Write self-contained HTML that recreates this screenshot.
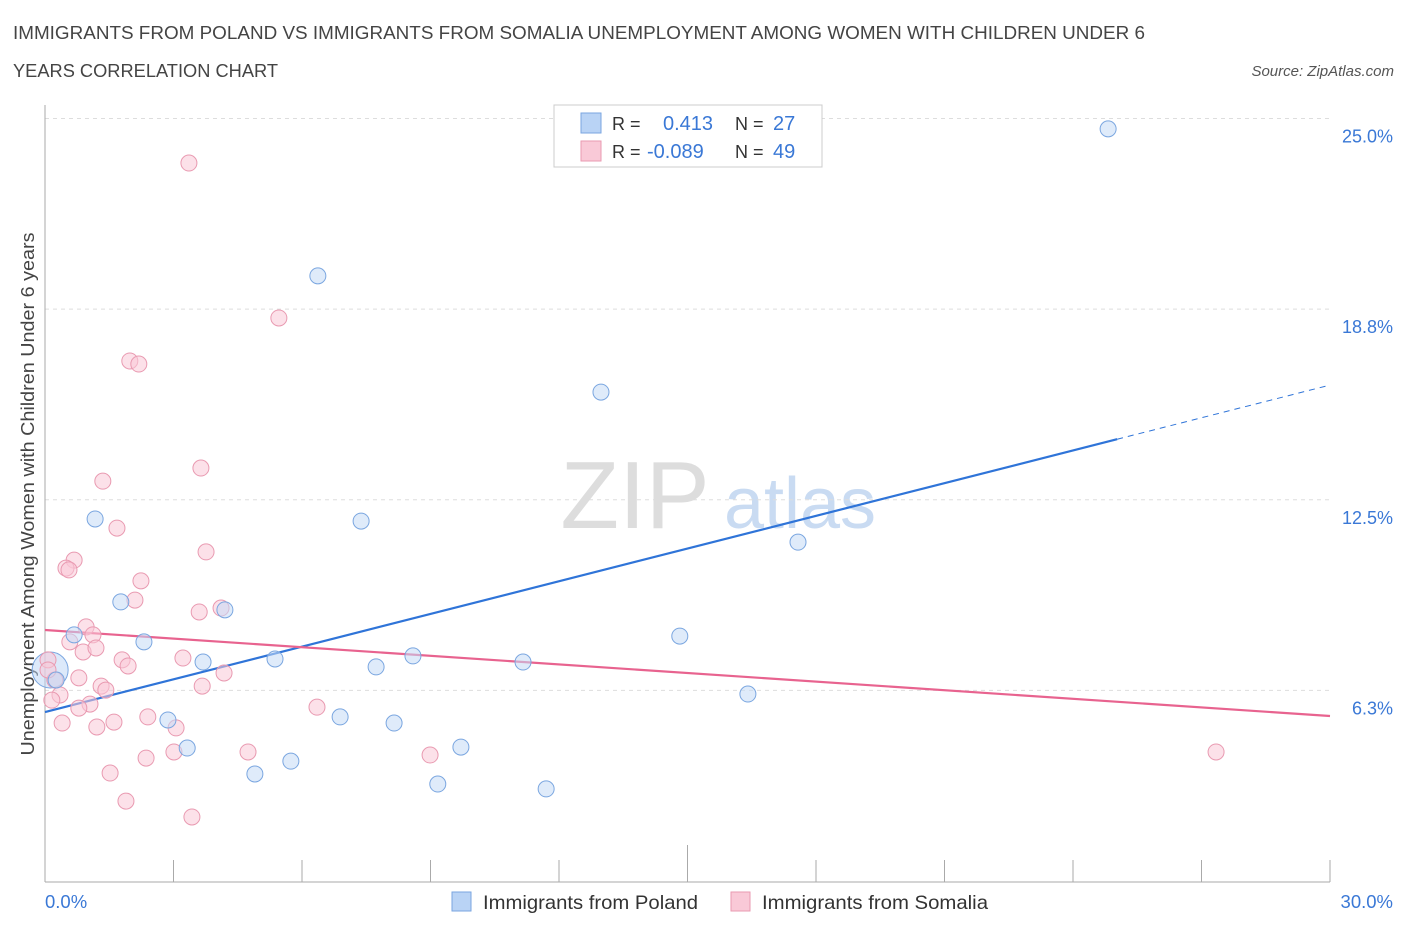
<!DOCTYPE html>
<html><head><meta charset="utf-8"><style>
body{margin:0;background:#fff;font-family:"Liberation Sans",sans-serif;}
svg text{font-family:"Liberation Sans",sans-serif;}
</style></head><body>
<svg id="chart" width="1406" height="930" xmlns="http://www.w3.org/2000/svg">
<text x="13" y="39" font-size="18" fill="#444" textLength="1132" lengthAdjust="spacingAndGlyphs">IMMIGRANTS FROM POLAND VS IMMIGRANTS FROM SOMALIA UNEMPLOYMENT AMONG WOMEN WITH CHILDREN UNDER 6</text>
<text x="13" y="77" font-size="18" fill="#444" textLength="265" lengthAdjust="spacingAndGlyphs">YEARS CORRELATION CHART</text>
<text x="1394" y="76" font-size="15" fill="#555" text-anchor="end" font-style="italic">Source: ZipAtlas.com</text>
<g>
<text x="635" y="528" font-size="96" fill="#ddd" text-anchor="middle" font-family="Liberation Serif, serif">ZIP</text>
<text x="800" y="528" font-size="72" fill="#c9dbf2" text-anchor="middle">atlas</text>
</g>
<g id="grid"></g>
<line x1="45" y1="105" x2="45" y2="882" stroke="#aaa"/>
<line x1="45" y1="882" x2="1330" y2="882" stroke="#aaa"/>
<g id="ticks"></g>
<text transform="translate(34,494) rotate(-90)" font-size="18" fill="#444" text-anchor="middle" textLength="523" lengthAdjust="spacingAndGlyphs">Unemployment Among Women with Children Under 6 years</text>
<text x="45" y="908" font-size="18.5" fill="#3a78d6">0.0%</text>
<text x="1393" y="908" font-size="18.5" fill="#3a78d6" text-anchor="end">30.0%</text>
<g id="lines"></g>
<g id="points"></g>
<g>
<rect x="554" y="105" width="268" height="62" fill="#fff" stroke="#ccc"/>
<rect x="581" y="113" width="20" height="20" fill="#b9d3f5" stroke="#7aa6e0"/>
<rect x="581" y="141" width="20" height="20" fill="#f9c9d7" stroke="#e99ab1"/>
<text x="612" y="130" font-size="18" fill="#333">R =</text>
<text x="663" y="130" font-size="20" fill="#3a78d6">0.413</text>
<text x="735" y="130" font-size="18" fill="#333">N =</text>
<text x="773" y="130" font-size="20" fill="#3a78d6">27</text>
<text x="612" y="158" font-size="18" fill="#333">R =</text>
<text x="647" y="158" font-size="20" fill="#3a78d6">-0.089</text>
<text x="735" y="158" font-size="18" fill="#333">N =</text>
<text x="773" y="158" font-size="20" fill="#3a78d6">49</text>
</g>
<g>
<rect x="452" y="892" width="19" height="19" fill="#b9d3f5" stroke="#7aa6e0"/>
<text x="483" y="909" font-size="19.5" fill="#333" textLength="215" lengthAdjust="spacingAndGlyphs">Immigrants from Poland</text>
<rect x="731" y="892" width="19" height="19" fill="#f9c9d7" stroke="#e99ab1"/>
<text x="762" y="909" font-size="19.5" fill="#333" textLength="226" lengthAdjust="spacingAndGlyphs">Immigrants from Somalia</text>
</g>
</svg>
<script>
const yTicks=[6.25,12.5,18.75,25];
const yTickLabels=["6.3%","12.5%","18.8%","25.0%"];
const xTicks=[0,3,6,9,12,15,18,21,24,27,30];
const polandX=[24.82,6.37,12.98,1.17,7.38,17.58,1.77,4.20,0.68,2.31,14.82,3.69,5.37,7.73,8.59,11.16,16.41,0.26,2.87,6.89,8.15,3.32,9.71,4.90,5.74,9.17,11.70];
const polandY=[24.66,19.84,16.03,11.87,11.80,11.11,9.15,8.89,8.07,7.84,8.03,7.18,7.28,7.02,7.38,7.18,6.13,6.59,5.28,5.38,5.18,4.36,4.39,3.51,3.93,3.18,3.02];
const somaliaX=[3.36,5.46,1.98,2.19,3.64,1.35,1.68,3.76,0.68,0.49,0.56,2.24,2.10,3.60,4.11,0.96,1.12,0.58,0.89,1.19,1.80,1.94,3.22,0.07,0.79,4.18,0.23,1.31,1.42,3.67,0.35,0.16,1.05,0.79,6.35,2.40,3.06,0.40,1.61,1.21,3.01,4.74,8.99,2.36,1.52,1.89,3.43,27.34,0.07];
const somaliaY=[23.54,18.46,17.05,16.95,13.54,13.11,11.57,10.79,10.52,10.26,10.20,9.84,9.21,8.82,8.95,8.33,8.07,7.84,7.51,7.64,7.25,7.05,7.31,7.25,6.66,6.82,6.59,6.39,6.26,6.39,6.10,5.93,5.80,5.67,5.70,5.38,5.02,5.18,5.21,5.05,4.23,4.23,4.13,4.03,3.54,2.62,2.10,4.23,6.92];
const bigPoint=[0.12,6.92];
const polandTrend=[5.54,16.26];
const polandSolidEnd=25.03;
const somaliaTrend=[8.23,5.41];
const NS="http://www.w3.org/2000/svg";
const sx=v=>45+v/30*1285;
const sy=v=>881-v*30.5;
function mk(tag,attrs,parent){const e=document.createElementNS(NS,tag);for(const k in attrs)e.setAttribute(k,attrs[k]);document.getElementById(parent).appendChild(e);return e;}
yTicks.forEach((t,i)=>{
 const l=mk('line',{x1:45,x2:1330,y1:sy(t),y2:sy(t),stroke:'#ddd','stroke-dasharray':'4,4'},'grid');
 
 
 const tx=mk('text',{x:1393,y:sy(t)+24,'font-size':18,fill:'#3a78d6','text-anchor':'end'},'grid');
 tx.textContent=yTickLabels[i];
 
 
});
xTicks.forEach(t=>{
 const l=mk('line',{x1:sx(t),x2:sx(t),y1:t===15?845:860,y2:882,stroke:'#aaa'},'ticks');
 
 
});
function drawPts(xs,ys,fill,stroke,name){
 xs.forEach((x,i)=>{
  const c=mk('circle',{cx:sx(x),cy:sy(ys[i]),r:8,fill:fill,'fill-opacity':0.55,stroke:stroke,'stroke-width':1},'points');
  
  
 });
}
const big=mk('circle',{cx:sx(bigPoint[0]),cy:sy(bigPoint[1]),r:18,fill:'#b9d3f5','fill-opacity':0.5,stroke:'#7aa6e0'},'points');


drawPts(somaliaX,somaliaY,'#f9c9d7','#e99ab1','somalia-point');
drawPts(polandX,polandY,'#c5dbf6','#7aa6e0','poland-point');
const slope=(polandTrend[1]-polandTrend[0])/30;
const pl=mk('line',{x1:sx(0),y1:sy(polandTrend[0]),x2:sx(polandSolidEnd),y2:sy(polandTrend[0]+slope*polandSolidEnd),stroke:'#2f74d8','stroke-width':2.2},'lines');


const pd=mk('line',{x1:sx(polandSolidEnd),y1:sy(polandTrend[0]+slope*polandSolidEnd),x2:sx(30),y2:sy(polandTrend[1]),stroke:'#2f74d8','stroke-width':1,'stroke-dasharray':'6,5'},'lines');


const sl=mk('line',{x1:sx(0),y1:sy(somaliaTrend[0]),x2:sx(30),y2:sy(somaliaTrend[1]),stroke:'#e8638f','stroke-width':2.2},'lines');


</script>
</body></html>
